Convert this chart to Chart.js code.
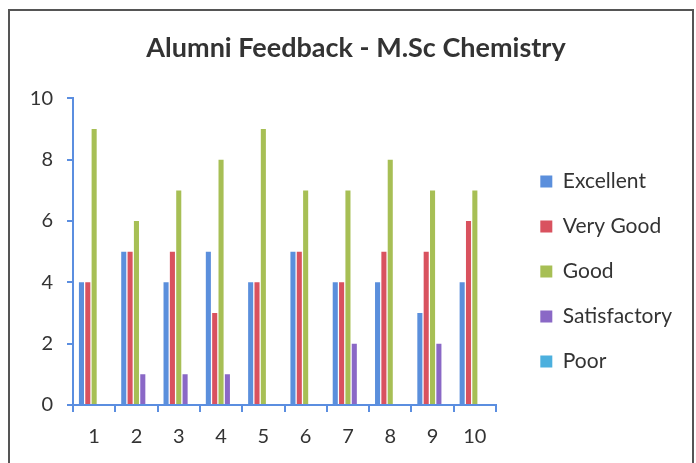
<!DOCTYPE html>
<html>
<head>
<meta charset="utf-8">
<script src="https://cdn.jsdelivr.net/npm/chart.js"></script>
<style>
    body { margin: 0; background: #fff; }
    #wrap { position: relative; width: 696px; height: 463px; }
    #frame { position: absolute; left: 8px; top: 9px; width: 682px; height: 470px;
             border: 2px solid #555; border-bottom: none; pointer-events: none; }
</style>
</head>
<body>
<div id="wrap">
    <canvas id="feedbackChart" width="696" height="463"></canvas>
    <div id="frame"></div>
</div>
<script>
    const batches = ["1", "2", "3", "4", "5", "6", "7", "8", "9", "10"];
    const excellent    = [4, 5, 4, 5, 4, 5, 4, 4, 3, 4];
    const veryGood     = [4, 5, 5, 3, 4, 5, 4, 5, 5, 6];
    const good         = [9, 6, 7, 8, 9, 7, 7, 8, 7, 7];
    const satisfactory = [0, 1, 1, 1, 0, 0, 2, 0, 2, 0];
    const poor         = [0, 0, 0, 0, 0, 0, 0, 0, 0, 0];
    const yTicks = [0, 2, 4, 6, 8, 10];

    const axisBlue = "#5b8ee0";
    const textCol = "#333333";
    const font = "Lato, 'Open Sans', sans-serif";
    const plotRight = 496; // x axis stops here, legend sits further right

    const mkSet = (label, data, color) => ({
        label: label, data: data, backgroundColor: color, borderWidth: 0,
        categoryPercentage: 0.75, barPercentage: 0.8
    });

    // leave a gap between the plot and the legend, nudge the title right
    const gapPlugin = {
        id: "gap",
        afterLayout(chart) {
            const x = chart.scales.x;
            x.right = plotRight;
            x.width = x.right - x.left;
            x.configure();
            chart.chartArea.right = plotRight;
            chart.chartArea.width = plotRight - chart.chartArea.left;
            chart.titleBlock.left += 15;
            chart.titleBlock.right += 15;
        }
    };

    new Chart(document.getElementById("feedbackChart"), {
        type: "bar",
        data: {
            labels: batches,
            datasets: [
                mkSet("Excellent", excellent, "#5b8fdc"),
                mkSet("Very Good", veryGood, "#d9525f"),
                mkSet("Good", good, "#a7bf55"),
                mkSet("Satisfactory", satisfactory, "#8a68c6"),
                mkSet("Poor", poor, "#4cb0de")
            ]
        },
        plugins: [gapPlugin],
        options: {
            responsive: false,
            animation: false,
            layout: { padding: { left: 0, right: 14, bottom: 1, top: 0 } },
            plugins: {
                title: {
                    display: true,
                    text: "Alumni Feedback - M.Sc Chemistry",
                    color: textCol,
                    font: { family: font, size: 27, weight: "bold" },
                    padding: { top: 32, bottom: 34 }
                },
                legend: {
                    position: "right",
                    align: "start",
                    // empty title just pushes the items down
                    title: { display: true, text: "", font: { size: 10 }, padding: { top: 0, bottom: 135 } },
                    labels: {
                        color: textCol,
                        font: { family: font, size: 21 },
                        boxWidth: 12, boxHeight: 12,
                        padding: 24
                    }
                },
                tooltip: { enabled: false }
            },
            scales: {
                x: {
                    grid: { display: true, drawOnChartArea: false, color: axisBlue, lineWidth: 2, tickLength: 7 },
                    border: { color: axisBlue, width: 2 },
                    ticks: { color: textCol, font: { family: font, size: 20 }, padding: 13 }
                },
                y: {
                    min: 0, max: 10,
                    afterBuildTicks: s => { s.ticks = yTicks.map(v => ({ value: v })); },
                    afterFit: s => { s.width = 73; },
                    grid: { display: true, drawOnChartArea: false, color: axisBlue, lineWidth: 2, tickLength: 6 },
                    border: { color: axisBlue, width: 2 },
                    ticks: { color: textCol, font: { family: font, size: 20 }, padding: 14 }
                }
            }
        }
    });
</script>
</body>
</html>
